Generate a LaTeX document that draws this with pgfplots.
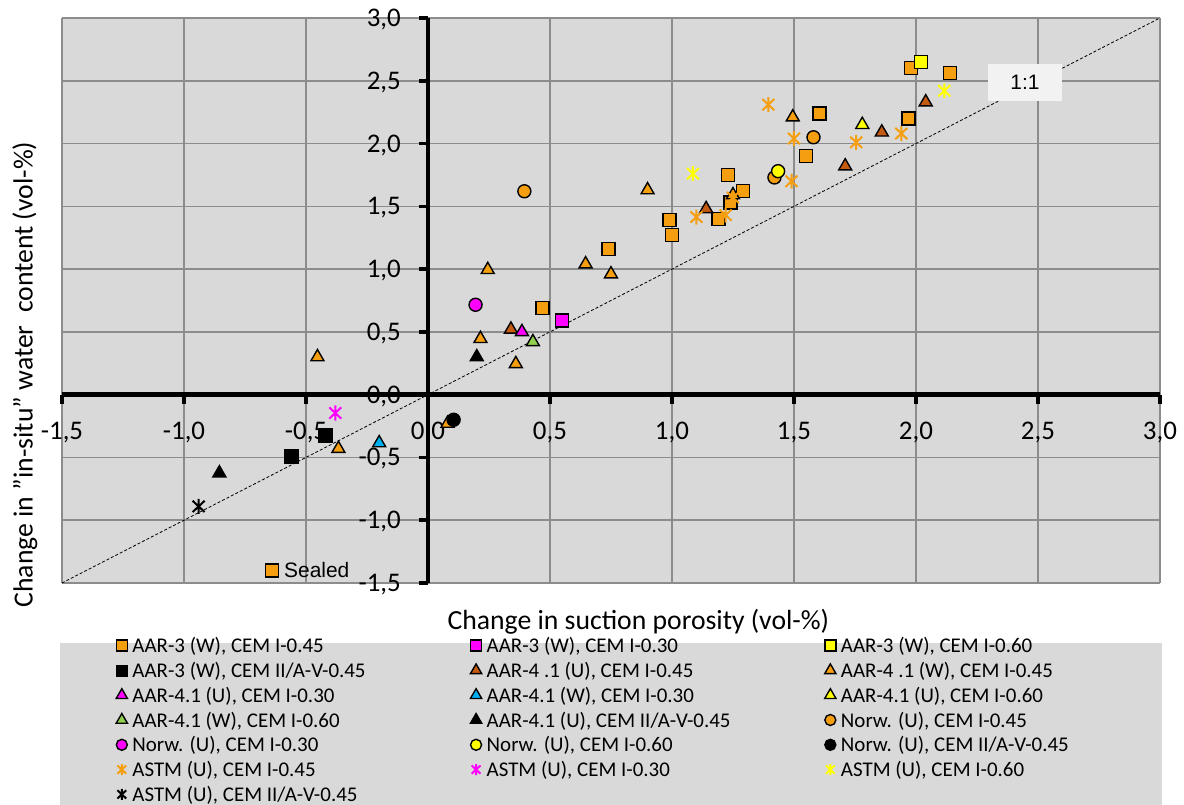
\documentclass[border=0pt]{standalone}
\usepackage{pgfplots}
\pgfplotsset{compat=1.18}
\usepackage{fontspec}
\setmainfont{Carlito}
\newfontfamily\arial{Liberation Sans}
\definecolor{bgc}{HTML}{D9D9D9}
\definecolor{gridc}{HTML}{8C8C8C}
\definecolor{orangeC}{RGB}{244,158,16}
\definecolor{brownC}{HTML}{C55A11}
\definecolor{magC}{HTML}{FF00FF}
\definecolor{yelC}{HTML}{FFFF00}
\definecolor{cyanC}{HTML}{00B0F0}
\definecolor{greenC}{HTML}{92D050}
\definecolor{boxC}{HTML}{F2F2F2}
\pgfdeclareplotmark{xast}{%
  \pgfpathmoveto{\pgfqpoint{0pt}{\pgfplotmarksize}}%
  \pgfpathlineto{\pgfqpoint{0pt}{-\pgfplotmarksize}}%
  \pgfpathmoveto{\pgfqpoint{-0.8\pgfplotmarksize}{0.75\pgfplotmarksize}}%
  \pgfpathlineto{\pgfqpoint{0.8\pgfplotmarksize}{-0.75\pgfplotmarksize}}%
  \pgfpathmoveto{\pgfqpoint{-0.8\pgfplotmarksize}{-0.75\pgfplotmarksize}}%
  \pgfpathlineto{\pgfqpoint{0.8\pgfplotmarksize}{0.75\pgfplotmarksize}}%
  \pgfusepathqstroke}
\newcommand{\lentry}[1]{\makebox[333bp][l]{#1}}
\pgfplotsset{
  sq/.style={only marks, mark=square*, mark size=6.5bp, mark options={fill=#1, draw=black, line width=1.4bp}, legend image post style={mark size=5.5bp}},
  tr/.style={only marks, mark=triangle*, mark size=7.5bp, mark options={fill=#1, draw=black, line width=1.4bp}, legend image post style={mark size=6.5bp}},
  ci/.style={only marks, mark=*, mark size=6.5bp, mark options={fill=#1, draw=black, line width=1.4bp}, legend image post style={mark size=5.5bp}},
  as/.style={only marks, mark=xast, mark size=7.5bp, mark options={draw=#1, line width=2bp}, legend image post style={mark size=5.5bp}},
}
\begin{document}
\begin{tikzpicture}
\path[use as bounding box] (-62bp,-222bp) rectangle (1122bp,583bp);
\fill[bgc] (-2bp,-60bp) rectangle (1100bp,-225bp);
\begin{axis}[
  at={(0,0)}, anchor=south west,
  scale only axis, width=1098bp, height=565bp,
  xmin=-1.5, xmax=3, ymin=-1.5, ymax=3,
  xtick={-1.5,-1,...,3}, ytick={-1.5,-1,...,3},
  axis lines=middle,
  axis line style={-, line width=4.5bp, black},
  hide obscured x ticks=false, hide obscured y ticks=false,
  axis background/.style={fill=bgc},
  grid=major,
  major grid style={gridc, line width=1.5bp},
  tick align=outside,
  major tick length=9bp,
  tick style={black, line width=3.5bp},
  /pgf/number format/.cd, use comma, fixed, fixed zerofill, precision=1, assume math mode=true,
  /pgfplots/.cd,
  ticklabel style={font=\fontsize{27}{30}\selectfont, inner sep=0pt},
  xticklabel style={anchor=base, yshift=-36bp},
  yticklabel style={anchor=base east, xshift=-18bp, yshift=-8.5bp},
  xlabel={Change in suction porosity (vol-\%)},
  ylabel={Change in "in-situ" water\ \ content (vol-\%)},
  xlabel style={at={(axis description cs:0.525,0)}, anchor=center, yshift=-39bp, font=\fontsize{27.8}{30}\selectfont},
  ylabel style={at={(axis description cs:-0.0337,0.369)}, anchor=center, rotate=90, font=\fontsize{27.8}{30}\selectfont},
  clip=false,
  legend columns=3,
  legend style={at={(axis description cs:0,0)}, anchor=north west, xshift=54bp, yshift=-52bp,
    draw=none, fill=none, inner sep=0pt, row sep=0pt, column sep=0pt,
    font=\fontsize{21}{24}\selectfont,
    nodes={inner xsep=5bp, inner ysep=3.4bp, text height=14bp, text depth=4bp}},
  legend image code/.code={\draw[#1] plot coordinates {(5bp,2bp)};},
]
\addplot[black, dashed, line width=0.8bp, dash pattern=on 3bp off 2bp, forget plot] coordinates {(-1.5,-1.5) (3,3)};
% AAR-3 (W), CEM I-0.45
\addplot[sq=orangeC] coordinates {(1.98,2.60) (2.14,2.56) (1.97,2.20) (1.605,2.24) (1.55,1.90) (1.23,1.75) (1.29,1.62) (1.24,1.53) (1.19,1.40) (0.99,1.39) (1.00,1.27) (0.74,1.16) (0.47,0.69)};
\addlegendentry{\lentry{AAR-3 (W), CEM I-0.45}}
\addplot[sq=magC] coordinates {(0.55,0.59)};
\addlegendentry{\lentry{AAR-3 (W), CEM I-0.30}}
\addplot[sq=yelC] coordinates {(2.02,2.65)};
\addlegendentry{\lentry{AAR-3 (W), CEM I-0.60}}
\addplot[only marks, mark=square*, mark size=7bp, mark options={fill=black, draw=black}, legend image post style={mark size=5.5bp}] coordinates {(-0.42,-0.32) (-0.56,-0.49)};
\addlegendentry{\lentry{AAR-3 (W), CEM II/A-V-0.45}}
\addplot[tr=brownC] coordinates {(2.04,2.33) (1.86,2.09) (1.71,1.82) (1.14,1.48) (0.34,0.52)};
\addlegendentry{\lentry{AAR-4 .1 (U), CEM I-0.45}}
\addplot[tr=orangeC] coordinates {(1.495,2.21) (0.90,1.63) (0.245,0.995) (0.646,1.04) (0.75,0.96) (0.215,0.445) (0.36,0.245) (-0.453,0.30) (-0.367,-0.43) (0.08,-0.23) (1.25,1.59)};
\addlegendentry{\lentry{AAR-4 .1 (W), CEM I-0.45}}
\addplot[tr=magC] coordinates {(0.385,0.50)};
\addlegendentry{\lentry{AAR-4.1 (U), CEM I-0.30}}
\addplot[tr=cyanC] coordinates {(-0.20,-0.385)};
\addlegendentry{\lentry{AAR-4.1 (W), CEM I-0.30}}
\addplot[tr=yelC] coordinates {(1.78,2.15)};
\addlegendentry{\lentry{AAR-4.1 (U), CEM I-0.60}}
\addplot[tr=greenC] coordinates {(0.43,0.42)};
\addlegendentry{\lentry{AAR-4.1 (W), CEM I-0.60}}
\addplot[tr=black] coordinates {(0.20,0.30) (-0.855,-0.625)};
\addlegendentry{\lentry{AAR-4.1 (U), CEM II/A-V-0.45}}
\addplot[ci=orangeC] coordinates {(0.395,1.62) (1.58,2.05) (1.42,1.73)};
\addlegendentry{\lentry{Norw. (U), CEM I-0.45}}
\addplot[ci=magC] coordinates {(0.195,0.716)};
\addlegendentry{\lentry{Norw. (U), CEM I-0.30}}
\addplot[ci=yelC] coordinates {(1.435,1.78)};
\addlegendentry{\lentry{Norw. (U), CEM I-0.60}}
\addplot[ci=black] coordinates {(0.105,-0.20)};
\addlegendentry{\lentry{Norw. (U), CEM II/A-V-0.45}}
\addplot[as=orangeC] coordinates {(1.395,2.31) (1.50,2.04) (1.755,2.01) (1.94,2.08) (1.49,1.70) (1.10,1.415) (1.22,1.43) (1.25,1.57)};
\addlegendentry{\lentry{ASTM (U), CEM I-0.45}}
\addplot[as=magC] coordinates {(-0.38,-0.146)};
\addlegendentry{\lentry{ASTM (U), CEM I-0.30}}
\addplot[as=yelC] coordinates {(1.086,1.76) (2.116,2.42)};
\addlegendentry{\lentry{ASTM (U), CEM I-0.60}}
\addplot[as=black] coordinates {(-0.94,-0.89)};
\addlegendentry{\lentry{ASTM (U), CEM II/A-V-0.45}}
% Sealed annotation
\addplot[sq=orangeC, forget plot] coordinates {(-0.64,-1.40)};
\node[anchor=west, inner sep=0pt, font=\arial\fontsize{21}{24}\selectfont] at (axis cs:-0.59,-1.40) {Sealed};
\node[fill=boxC, minimum width=74bp, minimum height=37bp, inner sep=0pt, font=\arial\fontsize{21}{24}\selectfont] at (axis cs:2.447,2.488) {1:1};
\end{axis}
\end{tikzpicture}
\end{document}
